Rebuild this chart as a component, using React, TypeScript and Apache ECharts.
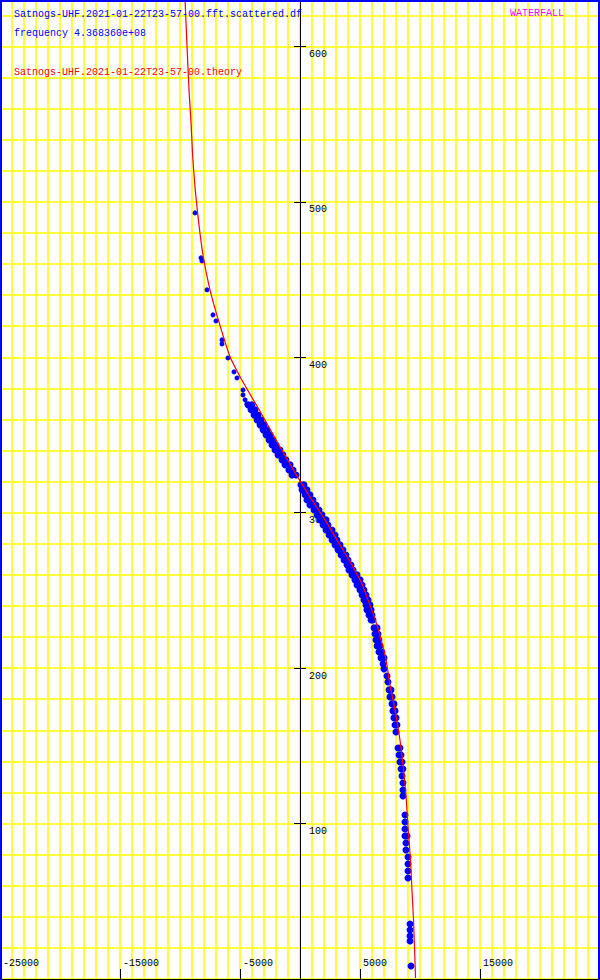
import React, { useEffect, useRef } from "react";
import * as echarts from "echarts";

const dataFileName = "Satnogs-UHF.2021-01-22T23-57-00.fft.scattered.df";
const frequencyLabel = "frequency 4.368360e+08";
const theoryName = "Satnogs-UHF.2021-01-22T23-57-00.theory";
const modeLabel = "WATERFALL";

const xRange = [-25000, 25000];
const xTickStep = 10000;
const yRange = [0, 700];
const yTickStep = 100;
const yLabelMax = 600;

// theoretical doppler curve [frequency offset (Hz), time]
const theoryCurve: number[][] = [
  [-9580, 630.0], [-9420, 601.0], [-9250, 572.1], [-9080, 550.8], [-8940, 529.0],
  [-8730, 507.7], [-8440, 486.5], [-8060, 464.6], [-7500, 443.4], [-6730, 422.1],
  [-5830, 400.3], [-4860, 385.5], [-4080, 375.2], [-3250, 364.2], [-1750, 343.6],
  [-250, 323.7], [830, 310.2], [2080, 295.4], [3580, 276.1], [4420, 265.1],
  [5130, 254.8], [5670, 243.9], [6330, 229.7], [6830, 216.2], [7170, 205.3],
  [7500, 189.2], [7920, 173.1], [8330, 153.8], [8610, 136.4], [8830, 118.4],
  [9000, 97.8], [9210, 76.6], [9330, 57.3], [9460, 38.0], [9630, 0.6],
];

// isolated measured points (upper part of the pass)
const sparsePoints: number[][] = [
  [-8750, 492.9], [-8250, 464.0], [-8170, 462.0], [-7750, 443.4], [-7250, 427.3],
  [-7000, 423.4], [-6500, 411.2], [-6500, 408.6], [-6000, 399.6], [-5500, 390.6],
  [-5250, 386.7], [-4750, 379.0], [-4750, 375.8], [-4580, 372.6], [-4420, 370.0],
];

// dense measured points
const bandPoints: number[][] = [
  [-4330, 369.4], [-4000, 369.4], [-4080, 366.2], [-3750, 366.2], [-3830, 362.9], [-3500, 362.9],
  [-3580, 359.7], [-3250, 359.7], [-3330, 356.5], [-3000, 356.5], [-3080, 353.3], [-2750, 353.3],
  [-2830, 350.1], [-2500, 350.1], [-2580, 346.8], [-2250, 346.8], [-2330, 343.6], [-2000, 343.6],
  [-2080, 340.4], [-1670, 340.4], [-1830, 337.2], [-1420, 337.2], [-1500, 334.0], [-1170, 334.0],
  [-1250, 330.8], [-830, 330.8], [-920, 327.5], [-580, 327.5], [-670, 324.3], [-330, 324.3],
  [80, 317.9], [330, 317.9], [170, 314.7], [580, 314.7], [420, 311.5], [830, 311.5],
  [580, 308.2], [1080, 308.2], [830, 305.0], [1330, 305.0], [1170, 301.8], [1580, 301.8],
  [1420, 298.6], [1830, 298.6], [1670, 295.4], [2170, 295.4], [1920, 292.1], [2330, 292.1],
  [2170, 288.9], [2670, 288.9], [2420, 285.7], [2920, 285.7], [2670, 282.5], [3080, 282.5],
  [2920, 279.3], [3330, 279.3], [3170, 276.1], [3580, 276.1], [3420, 272.8], [3830, 272.8],
  [3670, 269.6], [4000, 269.6], [3920, 266.4], [4250, 266.4], [4080, 263.2], [4420, 263.2],
  [4330, 260.0], [4750, 260.0], [4580, 256.8], [5000, 256.8], [4750, 253.5], [5170, 253.5],
  [5000, 250.3], [5330, 250.3], [5170, 247.1], [5500, 247.1], [5330, 243.9], [5670, 243.9],
  [5500, 240.7], [5830, 240.7], [5580, 237.5], [5920, 237.5], [5750, 234.2], [6000, 234.2],
  [5920, 231.0], [6080, 231.0],
  [6170, 225.9], [6420, 225.9], [6250, 222.0], [6500, 222.0], [6330, 218.1], [6580, 218.1],
  [6420, 214.3], [6670, 214.3], [6580, 210.4], [6830, 210.4], [6750, 206.6], [7000, 206.6],
  [6920, 202.7], [7000, 199.5], [7250, 195.0], [7330, 191.1],
  [7420, 186.0], [7580, 186.0], [7500, 181.5], [7670, 181.5], [7670, 177.0], [7830, 177.0],
  [7750, 172.5], [7920, 172.5], [7830, 168.0], [8000, 168.0], [7920, 163.4], [8080, 163.4],
  [8000, 158.9],
  [8170, 148.6], [8330, 148.6], [8250, 144.1], [8420, 144.1], [8330, 139.6], [8500, 139.6],
  [8420, 135.1], [8580, 135.1], [8500, 130.6], [8580, 126.1], [8580, 121.6], [8580, 117.8],
  [8750, 105.5], [8750, 101.0], [8750, 96.5], [8750, 92.0], [8920, 92.0], [8830, 87.5],
  [8830, 83.0], [9000, 78.5], [9000, 74.0], [9000, 69.5], [9000, 65.0],
  [9170, 35.4], [9170, 31.5], [9170, 27.7], [9170, 24.5],
  [9250, 8.4],
];

export default function App() {
  const ref = useRef<HTMLDivElement>(null);

  useEffect(() => {
    document.body.style.margin = "0";
    if (!ref.current) return;
    const chart = echarts.init(ref.current, null, { renderer: "svg" });
    const font = "'Liberation Mono', 'DejaVu Sans Mono', monospace";
    const vert = { top: -109, bottom: 1, containLabel: false, outerBoundsMode: "none" };
    const yellow = "#ffff00";
    const black = "#000000";
    const gridW = 1.5;
    const plain = (v: number) => String(v);

    chart.setOption({
      animation: false,
      backgroundColor: "#ffffff",
      grid: [
        { left: 0, right: 0, ...vert },
        { left: 300, right: 0, ...vert },
        { left: 0, right: 300, ...vert },
      ],
      xAxis: [
        {
          type: "value",
          gridIndex: 0,
          min: xRange[0],
          max: xRange[1],
          interval: xTickStep,
          axisLine: { show: true, onZero: false, lineStyle: { color: black, width: 1 } },
          axisTick: { show: true, inside: true, length: 10, lineStyle: { color: black, width: 1 } },
          axisLabel: {
            show: true,
            inside: true,
            margin: 11,
            align: "left",
            verticalAlign: "bottom",
            padding: [0, 0, 0, 3],
            color: black,
            fontFamily: font,
            fontSize: 10,
            showMaxLabel: false,
            formatter: plain,
          },
          splitLine: { show: true, lineStyle: { color: yellow, width: gridW } },
          minorTick: { show: false, splitNumber: 10 },
          minorSplitLine: { show: true, lineStyle: { color: yellow, width: gridW } },
        },
        { type: "value", gridIndex: 1, min: 0, max: xRange[1], show: false },
        { type: "value", gridIndex: 2, min: xRange[0], max: 0, show: false },
      ],
      yAxis: [
        {
          type: "value",
          gridIndex: 0,
          min: yRange[0],
          max: yRange[1],
          interval: yTickStep,
          axisLine: { show: false, onZero: false },
          axisTick: { show: false },
          axisLabel: { show: false },
          splitLine: { show: true, lineStyle: { color: yellow, width: gridW } },
          minorTick: { show: false, splitNumber: 5 },
          minorSplitLine: { show: true, lineStyle: { color: yellow, width: gridW } },
        },
        {
          type: "value",
          gridIndex: 1,
          position: "left",
          min: yRange[0],
          max: yRange[1],
          interval: yTickStep,
          axisLine: { show: true, onZero: false, lineStyle: { color: black, width: 1 } },
          axisTick: { show: true, inside: true, length: 6, lineStyle: { color: black, width: 1 } },
          axisLabel: {
            show: true,
            inside: true,
            margin: 9,
            align: "left",
            verticalAlign: "top",
            padding: [3, 0, 0, 0],
            color: black,
            fontFamily: font,
            fontSize: 10,
            showMinLabel: false,
            showMaxLabel: false,
            formatter: (v: number) => (v > 0 && v <= yLabelMax ? String(v) : ""),
          },
          splitLine: { show: false },
        },
        {
          type: "value",
          gridIndex: 2,
          position: "right",
          min: yRange[0],
          max: yRange[1],
          interval: yTickStep,
          axisLine: { show: false, onZero: false },
          axisTick: { show: true, inside: true, length: 6, lineStyle: { color: black, width: 1 } },
          axisLabel: { show: false },
          splitLine: { show: false },
        },
      ],
      series: [
        {
          type: "scatter",
          name: dataFileName,
          xAxisIndex: 0,
          yAxisIndex: 0,
          data: sparsePoints,
          symbol: "circle",
          symbolSize: 5,
          itemStyle: { color: "#0000ff", opacity: 1 },
          z: 3,
        },
        {
          type: "scatter",
          name: dataFileName + " band",
          xAxisIndex: 0,
          yAxisIndex: 0,
          data: bandPoints,
          symbol: "circle",
          symbolSize: 7,
          itemStyle: { color: "#0000ff", opacity: 1 },
          z: 3,
        },
        {
          type: "line",
          name: theoryName,
          xAxisIndex: 0,
          yAxisIndex: 0,
          data: theoryCurve,
          showSymbol: false,
          symbol: "none",
          smooth: 0.2,
          lineStyle: { color: "#ff0000", width: 1.2 },
          z: 4,
        },
      ],
      graphic: [
        {
          type: "polyline",
          shape: { points: [[1, 980], [1, 1], [599, 1], [599, 980]] },
          style: { fill: "none", stroke: "#0000ff", lineWidth: 2 },
          silent: true,
          z: 100,
        },
        {
          type: "text",
          x: 14,
          y: 9,
          style: { text: dataFileName, fill: "#0000ff", fontFamily: font, fontSize: 10, verticalAlign: "top" },
          z: 100,
        },
        {
          type: "text",
          x: 14,
          y: 28,
          style: { text: frequencyLabel, fill: "#0000ff", fontFamily: font, fontSize: 10, verticalAlign: "top" },
          z: 100,
        },
        {
          type: "text",
          x: 14,
          y: 67,
          style: { text: theoryName, fill: "#ff0000", fontFamily: font, fontSize: 10, verticalAlign: "top" },
          z: 100,
        },
        {
          type: "text",
          x: 510,
          y: 8,
          style: { text: modeLabel, fill: "#ff00ff", fontFamily: font, fontSize: 10, verticalAlign: "top" },
          z: 100,
        },
      ],
    });

    return () => {
      chart.dispose();
    };
  }, []);

  return <div ref={ref} style={{ width: 600, height: 980 }} />;
}
